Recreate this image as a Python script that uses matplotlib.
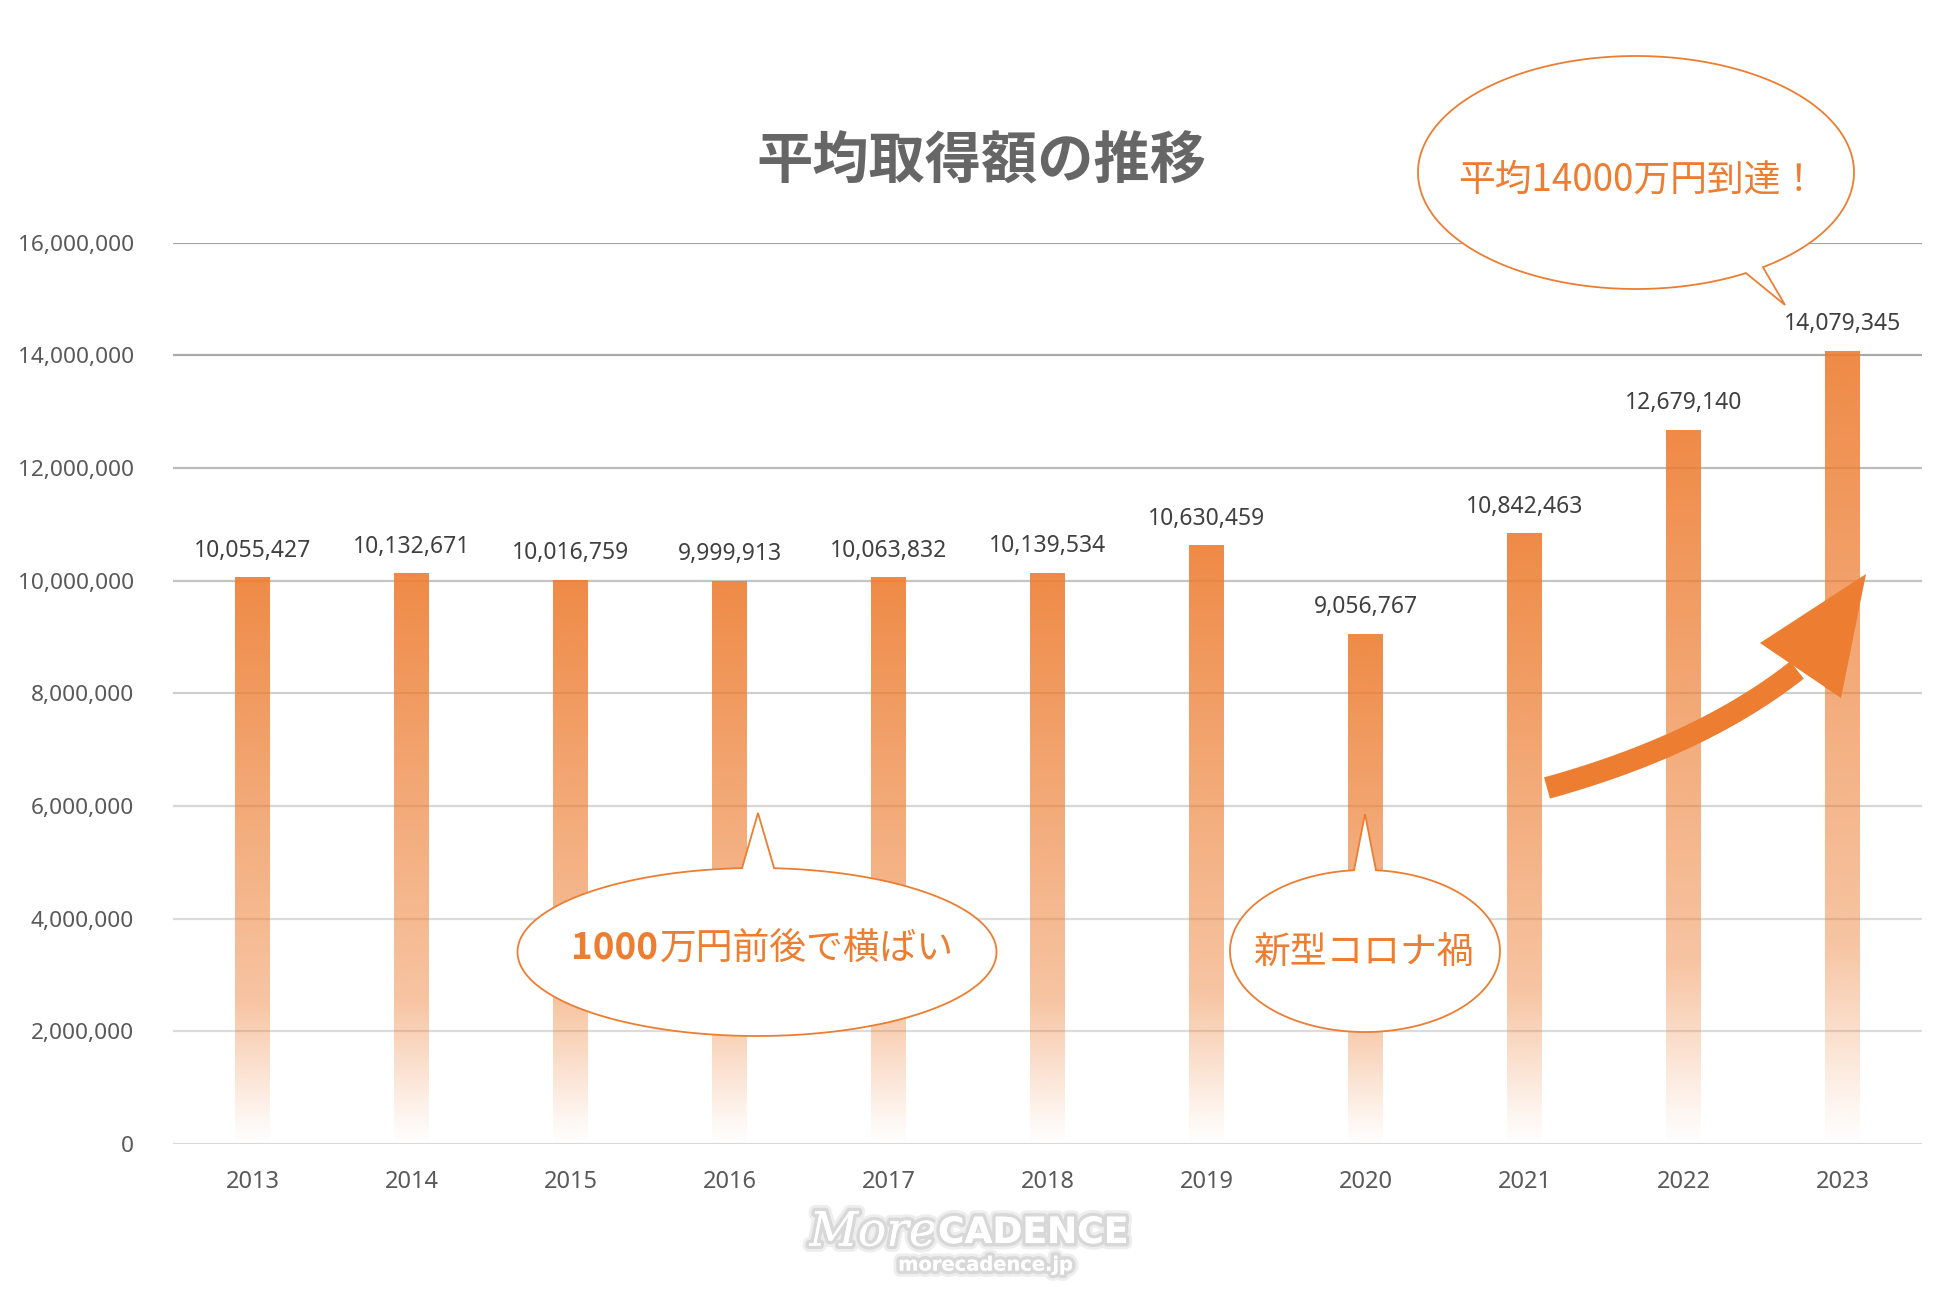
import numpy as np
import matplotlib
matplotlib.use("Agg")
import matplotlib.pyplot as plt
from matplotlib.patches import Polygon
import matplotlib.patheffects as pe

plt.rcParams['font.family'] = ['Noto Sans CJK JP', 'DejaVu Sans']

# ---------------- data ----------------
years = ["2013", "2014", "2015", "2016", "2017", "2018", "2019", "2020", "2021", "2022", "2023"]
values = [10055427, 10132671, 10016759, 9999913, 10063832, 10139534,
          10630459, 9056767, 10842463, 12679140, 14079345]
yticks = [0, 2000000, 4000000, 6000000, 8000000, 10000000, 12000000, 14000000, 16000000]
title = "平均取得額の推移"

ORANGE = "#ED7D31"
W, H = 1960, 1306
fig = plt.figure(figsize=(W / 100, H / 100), dpi=100)
fig.patch.set_facecolor("white")

ax = fig.add_axes([173 / W, 162 / H, 1749 / W, 901.5 / H])
x = np.arange(len(years))
bars = ax.bar(x, values, width=0.22, color="none", edgecolor="none", zorder=3)

# gradient fill for each bar
base = np.array([237, 125, 49]) / 255.0
n = 256
t = np.linspace(0, 1, n)  # 0 bottom -> 1 top
alpha = np.interp(t, [0, 0.05, 0.25, 1.0], [0.0, 0.08, 0.45, 0.9])
img = np.zeros((n, 1, 4))
img[:, 0, :3] = base
img[:, 0, 3] = alpha
img = img[::-1]  # first row = top
for b in bars:
    x0 = b.get_x(); w = b.get_width(); h = b.get_height()
    im = ax.imshow(img, extent=[x0, x0 + w, 0, h], aspect="auto", zorder=3,
                   interpolation="bilinear")
    im.set_clip_path(b)
ax.set_xlim(-0.5, len(years) - 0.5)
ax.set_ylim(0, 16000000)

# gridlines
grid_cols = ["#d9d9d9", "#dcdcdc", "#dcdcdc", "#d6d6d6", "#cfcfcf",
             "#c4c4c4", "#bcbcbc", "#a9a9a9", "#a6a6a6"]
for yv, c in zip(yticks, grid_cols):
    ax.axhline(yv, color=c, lw=1.6, zorder=1)

for s in ax.spines.values():
    s.set_visible(False)
ax.set_yticks(yticks)
ax.set_yticklabels([f"{v:,}" for v in yticks], family="Noto Sans", fontsize=16.3, color="#595959")
ax.set_xticks(x)
ax.set_xticklabels(years, family="Noto Sans", fontsize=17, color="#595959")
ax.tick_params(axis="y", length=0, pad=28)
ax.tick_params(axis="x", length=0, pad=19)

# data labels
for xi, v in zip(x, values):
    ax.annotate(f"{v:,}", (xi, v), xytext=(0, 19), textcoords="offset points",
                ha="center", va="center", family="Noto Sans", fontsize=16.5,
                color="#404040", zorder=5)

# ---------------- overlay (pixel coords) ----------------
ov = fig.add_axes([0, 0, 1, 1], zorder=10)
ov.set_xlim(0, W); ov.set_ylim(H, 0); ov.axis("off")
ov.patch.set_alpha(0)

ov.text(981, 162, title, ha="center", va="center", fontsize=40.5,
        fontweight="bold", color="#666666")


def callout(cx, cy, w, h, b1, b2, tip):
    a, bb = w / 2, h / 2
    ang1 = np.arctan2((b1[1] - cy) / bb, (b1[0] - cx) / a)
    ang2 = np.arctan2((b2[1] - cy) / bb, (b2[0] - cx) / a)
    d = (ang1 - ang2) % (2 * np.pi)
    if d < np.pi:
        angs = np.linspace(ang2, ang2 - (2 * np.pi - d), 400)
    else:
        angs = np.linspace(ang2, ang2 + d, 400)
    pts = np.column_stack([cx + a * np.cos(angs), cy + bb * np.sin(angs)])
    pts = np.vstack([pts, [tip]])
    ov.add_patch(Polygon(pts, closed=True, facecolor="white", edgecolor=ORANGE,
                         lw=1.3, zorder=11))


callout(1636, 172.5, 436, 233, (1747, 274), (1764, 268), (1785, 305))
ov.text(1638, 180, "平均14000万円到達！", ha="center", va="center",
        fontsize=26.5, color=ORANGE, zorder=12)

callout(757, 952, 479, 168, (742, 868), (774, 869), (758, 813))
t1 = ov.text(571, 948, "1000", ha="left", va="center", fontsize=26.5,
             fontweight="bold", color=ORANGE, zorder=12)
ov.annotate("万円前後で横ばい", xy=(1, 0.5), xycoords=t1, xytext=(1, 0),
            textcoords="offset points", ha="left", va="center", fontsize=26.5,
            color=ORANGE, zorder=12)

callout(1365, 951, 270, 162, (1354, 870), (1376, 870), (1365, 814))
ov.text(1364, 953, "新型コロナ禍", ha="center", va="center", fontsize=26.5,
        color=ORANGE, zorder=12)

# curved arrow
P0 = np.array([1547.0, 788.0]); P1 = np.array([1702.0, 745.0]); P2 = np.array([1797.0, 670.0])
tt = np.linspace(0, 1, 60)[:, None]
curve = (1 - tt) ** 2 * P0 + 2 * (1 - tt) * tt * P1 + tt ** 2 * P2
deriv = 2 * (1 - tt) * (P1 - P0) + 2 * tt * (P2 - P1)
nrm = np.column_stack([-deriv[:, 1], deriv[:, 0]])
nrm /= np.linalg.norm(nrm, axis=1)[:, None]
hw = 11
left = curve + nrm * hw
right = curve - nrm * hw
shaft = np.vstack([left, right[::-1]])
ov.add_patch(Polygon(shaft, closed=True, facecolor=ORANGE, edgecolor="none", zorder=11))
ov.add_patch(Polygon([(1866, 574), (1760, 643), (1841, 698)], closed=True,
                     facecolor=ORANGE, edgecolor="none", zorder=11))

# watermark
glow = [pe.withStroke(linewidth=9, foreground="#eeeeee"),
        pe.withStroke(linewidth=5, foreground="#d8d8d8")]
ov.text(937, 1233, "More", ha="right", va="center", fontsize=34, style="italic",
        family="DejaVu Serif", color="white", zorder=12, path_effects=glow + [pe.Normal()])
ov.text(938, 1233, "CADENCE", ha="left", va="center", fontsize=26, fontweight="heavy",
        family="DejaVu Sans", color="white", zorder=12, path_effects=glow + [pe.Normal()])
ov.text(986, 1265, "morecadence.jp", ha="center", va="center", fontsize=14, fontweight="bold",
        family="DejaVu Sans", color="white", zorder=12, path_effects=glow + [pe.Normal()])

fig.savefig("out.png", dpi=100, facecolor="white")
